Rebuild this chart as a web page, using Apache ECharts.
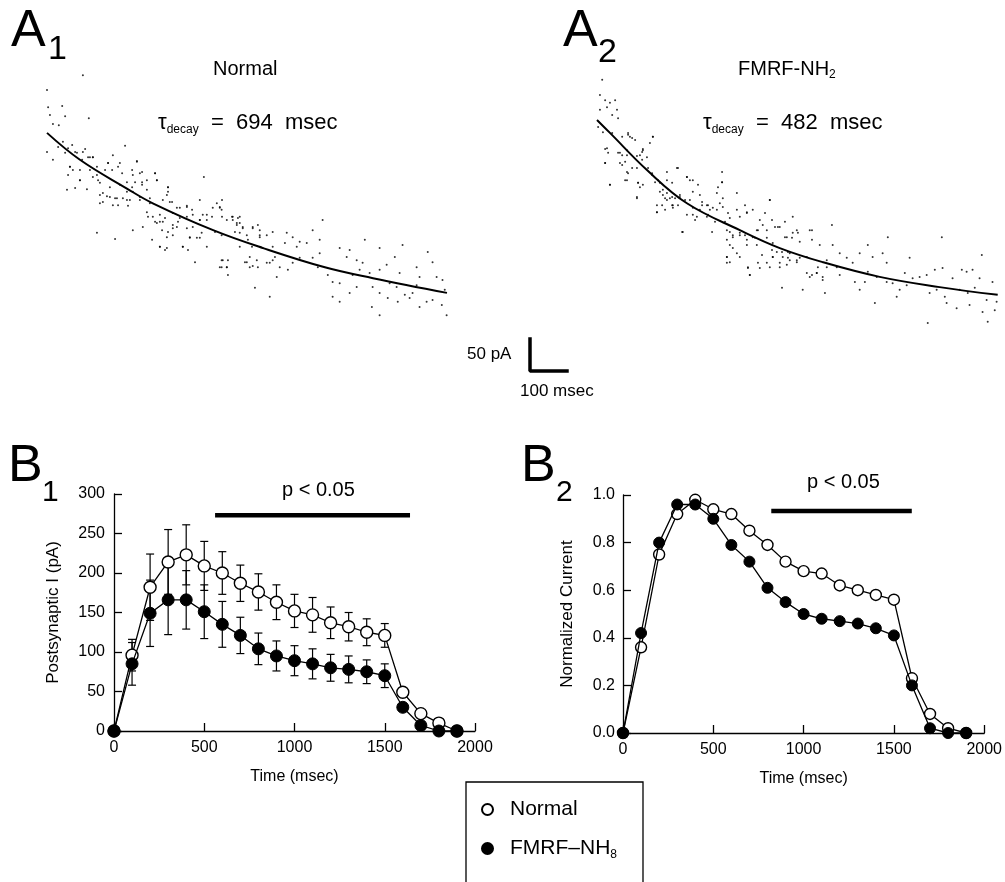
<!DOCTYPE html>
<html>
<head>
<meta charset="utf-8">
<script src="https://cdn.jsdelivr.net/npm/echarts@6/dist/echarts.min.js"></script>
<style>
  html, body { margin: 0; padding: 0; background: #fff; }
  #main { width: 1005px; height: 882px; }
</style>
</head>
<body>
<div id="main"></div>
<script>
// ---- A1 / A2: current decay, msec vs pA ----
const a1Dots = [[97,398],[0,375],[3,348],[41,350],[8,336],[49,334],[113,331],[16,322],[32,320],[0,278],[16,266],[30,286],[57,284],[81,277],[97,278],[111,270],[124,270],[211,288],[62,255],[89,250],[57,242],[89,234],[54,219],[76,222],[108,220],[165,261],[178,273],[192,255],[243,263],[232,242],[257,247],[292,245],[297,234],[135,242],[143,230],[151,214],[170,208],[189,206],[143,198],[178,195],[216,231],[230,223],[216,203],[251,203],[278,198],[257,227],[327,223],[324,211],[338,200],[413,203],[424,239],[270,184],[286,177],[305,180],[340,183],[359,191],[378,192],[232,156],[259,161],[297,167],[313,169],[340,164],[135,152],[184,142],[284,141],[305,130],[324,128],[367,130],[386,144],[413,144],[394,180],[413,172],[432,180],[459,198],[473,203],[467,191],[473,177],[486,172],[502,177],[521,177],[513,167],[529,161],[556,161],[575,156],[400,106],[475,109],[486,98],[489,86],[467,98],[521,152],[543,141],[554,130],[575,145],[535,106],[548,98],[567,109],[594,105],[610,109],[629,98],[562,66],[602,52],[621,83],[651,94],[648,152],[664,145],[683,138],[702,136],[675,130],[643,136],[718,156],[745,172],[737,141],[737,120],[664,105],[683,113],[718,113],[732,98],[759,86],[772,75],[791,73],[772,52],[791,44],[818,58],[837,67],[826,86],[791,128],[818,125],[810,114],[837,109],[853,105],[859,141],[845,94],[872,89],[899,94],[918,102],[899,128],[940,114],[961,133],[880,67],[899,58],[878,36],[899,23],[926,73],[945,67],[953,89],[967,55],[988,58],[999,70],[1007,83],[999,98],[1029,122],[1042,106],[1026,44],[1042,47],[1053,83],[1069,78],[1075,63],[1067,39],[1080,23],[1007,36],[980,50],[921,50],[948,44],
  [43,294],[68,289],[49,277],[76,278],[103,283],[95,266],[116,270],[124,270],[62,255],[70,250],[116,250],[135,255],[157,250],[89,234],[124,239],[138,234],[165,261],[197,261],[176,250],[203,245],[230,250],[243,264],[251,245],[238,231],[257,231],[270,234],[292,245],[297,234],[170,223],[197,227],[216,216],[232,216],[143,211],[162,209],[184,206],[205,206],[224,203],[251,208],[278,206],[151,200],[192,195],[219,194],[270,219],[327,223],[327,216],[313,203],[332,200],[273,177],[305,169],[292,169],[319,175],[351,191],[378,194],[392,188],[359,175],[378,177],[354,169],[340,159],[327,153],[311,156],[324,145],[340,148],[351,161],[378,159],[394,161],[413,172],[421,180],[432,172],[446,177],[448,191],[467,192],[472,188],[386,145],[405,144],[418,152],[432,130],[454,153],[472,148],[500,177],[502,172],[516,175],[521,167],[513,164],[508,153],[529,159],[556,159],[540,148],[575,148],[594,148],[610,153],[570,164],[367,130],[381,125],[305,130],[319,125],[472,109],[489,109],[472,98],[486,98],[521,130],[548,114],[540,106],[556,100],[570,98],[602,105],[616,114],[583,128],[610,130]];
const a1Fit = [[0,308],[89,266],[216,221],[286,198],[449,156],[584,128],[751,98],[881,81],[1081,58]];

const a2Dots = [[14,391],[8,367],[22,359],[35,355],[49,359],[27,348],[54,344],[8,344],[57,331],[41,336],[3,317],[16,309],[41,308],[84,305],[95,300],[151,302],[27,284],[62,277],[81,281],[116,273],[124,281],[135,270],[22,261],[68,258],[81,247],[108,253],[122,266],[35,227],[81,234],[111,230],[116,223],[108,208],[149,245],[157,231],[170,230],[178,219],[189,214],[203,208],[162,184],[189,203],[205,195],[224,208],[216,253],[243,239],[259,234],[273,227],[284,200],[297,195],[313,191],[338,247],[338,231],[324,214],[378,214],[259,191],[270,177],[232,153],[297,177],[340,192],[354,183],[386,177],[405,183],[467,203],[440,172],[351,156],[367,148],[386,152],[405,141],[421,145],[432,156],[351,114],[359,106],[386,114],[408,98],[413,86],[435,105],[459,144],[475,136],[494,161],[513,145],[529,152],[540,156],[581,156],[475,114],[494,105],[516,113],[540,106],[567,114],[500,66],[556,63],[575,83],[594,89],[610,78],[616,58],[635,164],[637,133],[656,120],[675,113],[710,120],[691,105],[621,98],[648,98],[656,86],[697,75],[710,63],[724,75],[732,133],[745,114],[786,145],[772,120],[783,105],[732,91],[756,83],[783,75],[799,73],[751,42],[810,52],[818,63],[837,70],[845,113],[832,89],[853,81],[872,83],[891,86],[913,94],[934,97],[899,58],[918,63],[940,52],[945,42],[972,34],[894,11],[932,145],[961,81],[986,94],[999,91],[1015,94],[1040,117],[980,63],[1002,58],[1021,66],[1034,81],[1053,47],[1056,13],[1069,75],[1080,44],[1075,31],[1007,39],[1042,28],
  [22,283],[30,277],[22,261],[57,277],[68,273],[62,261],[76,263],[81,273],[108,272],[122,278],[124,283],[143,292],[151,302],[68,302],[84,308],[89,302],[103,297],[84,245],[35,227],[76,234],[95,253],[111,230],[124,227],[108,206],[138,253],[149,242],[165,234],[170,216],[178,211],[189,234],[203,230],[189,247],[219,253],[243,239],[251,234],[197,206],[211,206],[224,211],[184,206],[162,195],[176,195],[203,195],[205,191],[219,195],[238,203],[251,203],[259,216],[278,211],[284,195],[162,184],[184,188],[243,180],[259,180],[265,172],[278,188],[300,195],[305,188],[324,188],[332,198],[340,206],[327,223],[338,231],[300,180],[319,169],[346,169],[359,175],[378,188],[400,195],[405,184],[421,188],[230,153],[311,153],[359,153],[367,145],[386,148],[400,148],[351,141],[359,133],[367,128],[351,114],[351,105],[378,120],[405,133],[427,144],[432,133],[435,156],[448,164],[454,183],[467,203],[473,172],[459,156],[481,161],[489,161],[508,169],[529,177],[508,145],[527,144],[543,152],[548,138],[575,156],[581,141],[602,133],[473,125],[486,122],[500,122],[516,122],[502,114],[521,120],[475,114],[459,105],[446,117],[408,97],[440,97],[467,98],[494,98],[513,102],[521,109],[540,109],[413,86],[548,113],[567,89],[581,86],[594,89],[610,83],[597,98],[621,109]];
const a2Fit = [[0,328],[35,308],[135,250],[243,198],[386,156],[494,128],[610,106],[764,83],[926,67],[1083,55]];

// scale bar: 50 pA / 100 msec
const scaleBar = [[0,50],[0,0],[100,0]];

// ---- B1 / B2 ----
const time = [0,100,200,300,400,500,600,700,800,900,1000,1100,1200,1300,1400,1500,1600,1700,1800,1900];
const b1Normal   = [0,96,182,214,223,209,200,187,176,163,152,147,137,132,125,121,49,22,10,0];
const b1NormalSE = [0,20,42,41,38,31,27,23,23,22,21,22,20,18,17,15,0,0,0,0];
const b1Fmrf     = [0,85,149,166,166,151,135,121,104,95,89,85,80,78,75,70,30,7,0,0];
const b1FmrfSE   = [0,27,42,44,37,34,29,23,20,19,19,19,17,17,15,15,0,0,0,0];
const b2Normal = [0,0.36,0.75,0.92,0.98,0.94,0.92,0.85,0.79,0.72,0.68,0.67,0.62,0.60,0.58,0.56,0.23,0.08,0.02,0];
const b2Fmrf   = [0,0.42,0.80,0.96,0.96,0.90,0.79,0.72,0.61,0.55,0.50,0.48,0.47,0.46,0.44,0.41,0.20,0.02,0,0];

// p<0.05 spans (msec) and the level they sit at
const b1Sig = [560, 1640], b1SigLevel = 273;
const b2Sig = [821, 1599], b2SigLevel = 0.933;

const FONT = 'Liberation Sans, Arial, sans-serif';

const chart = echarts.init(document.getElementById('main'));

function pairs(xs, ys) {
  return xs.map((x, i) => [x, ys[i]]);
}
function errData(xs, ys, se) {
  return xs.map((x, i) => [x, ys[i], se[i]]).filter(d => d[2] > 0);
}
function errorBars(idx, data) {
  return {
    type: 'custom',
    xAxisIndex: idx, yAxisIndex: idx,
    silent: true,
    z: 1,
    data: data,
    renderItem: function (params, api) {
      const x = api.value(0), m = api.value(1), s = api.value(2);
      const top = api.coord([x, m + s]);
      const bot = api.coord([x, m - s]);
      const w = 4;
      const st = { stroke: '#000', lineWidth: 1.2 };
      return {
        type: 'group',
        children: [
          { type: 'line', shape: { x1: top[0], y1: top[1], x2: bot[0], y2: bot[1] }, style: st },
          { type: 'line', shape: { x1: top[0] - w, y1: top[1], x2: top[0] + w, y2: top[1] }, style: st },
          { type: 'line', shape: { x1: bot[0] - w, y1: bot[1], x2: bot[0] + w, y2: bot[1] }, style: st }
        ]
      };
    }
  };
}
function hiddenAxis(idx, max) {
  return { gridIndex: idx, type: 'value', min: 0, max: max, show: false };
}
function bAxis(idx, opts) {
  return Object.assign({
    gridIndex: idx,
    type: 'value',
    nameLocation: 'middle',
    nameTextStyle: { fontFamily: FONT, fontSize: 16, color: '#000' },
    axisLine: { show: true, lineStyle: { color: '#000', width: 1.3 } },
    axisTick: { show: true, inside: true, length: 8, lineStyle: { color: '#000', width: 1.3 } },
    axisLabel: { fontFamily: FONT, fontSize: 16, color: '#000', margin: 9, formatter: v => String(v) },
    splitLine: { show: false }
  }, opts);
}
function markerLine(idx, name, data, filled, size) {
  return {
    type: 'line',
    name: name,
    xAxisIndex: idx, yAxisIndex: idx,
    data: data,
    clip: false,
    symbol: 'circle',
    symbolSize: size,
    z: filled ? 4 : 3,
    lineStyle: { color: '#000', width: 1.3 },
    itemStyle: filled ? { color: '#000', borderColor: '#000', borderWidth: 1 }
                      : { color: '#fff', borderColor: '#000', borderWidth: 1.4 }
  };
}
function sigBar(idx, span, level) {
  return {
    type: 'line',
    xAxisIndex: idx, yAxisIndex: idx,
    data: [[span[0], level], [span[1], level]],
    symbol: 'none',
    clip: false,
    lineStyle: { color: '#000', width: 4.5 }
  };
}
function txt(text, left, top, size, rich) {
  return {
    text: text, left: left, top: top, padding: 0,
    textStyle: { fontFamily: FONT, fontSize: size, fontWeight: 'normal', color: '#000', lineHeight: size, rich: rich }
  };
}

const tauRich = {
  t: { fontFamily: FONT, fontSize: 22, lineHeight: 26, color: '#000' },
  d: { fontFamily: FONT, fontSize: 12, lineHeight: 14, verticalAlign: 'bottom', color: '#000' }
};
const subRich = {
  n: { fontFamily: FONT, fontSize: 20, lineHeight: 24, color: '#000' },
  s: { fontFamily: FONT, fontSize: 12, lineHeight: 12, verticalAlign: 'bottom', color: '#000' }
};

chart.setOption({
  backgroundColor: '#fff',
  animation: false,
  title: [
    txt('A', 11, 6, 52),
    txt('1', 48, 33, 34),
    txt('A', 563, 6, 52),
    txt('2', 598, 36, 34),
    txt('Normal', 213, 59, 20),
    txt('{t|τ}{d|decay}{t|  =  694  msec}', 158, 110, 22, tauRich),
    txt('{n|FMRF-NH}{s|2}', 738, 57, 20, subRich),
    txt('{t|τ}{d|decay}{t|  =  482  msec}', 703, 110, 22, tauRich),
    txt('50 pA', 467, 346, 17),
    txt('100 msec', 520, 383, 17),
    txt('B', 8, 441, 52),
    txt('1', 42, 478, 30),
    txt('B', 521, 441, 52),
    txt('2', 556, 478, 30),
    txt('p < 0.05', 282, 480, 20),
    txt('p < 0.05', 807, 472, 20)
  ],
  legend: {
    left: 466, top: 782,
    height: 300,
    orient: 'vertical',
    selectedMode: false,
    data: [{ name: 'Normal', icon: 'circle' }, { name: 'FMRF', icon: 'circle' }],
    itemWidth: 11, itemHeight: 11, itemGap: 18,
    padding: [17, 26, 40, 15],
    borderColor: '#000', borderWidth: 1.3, borderRadius: 0,
    formatter: function (name) {
      return name === 'FMRF' ? '{a|FMRF–NH}{s|8}' : '{a|Normal}';
    },
    textStyle: {
      rich: {
        a: { fontFamily: FONT, fontSize: 21, lineHeight: 24, color: '#000', padding: [0, 0, 0, 12] },
        s: { fontFamily: FONT, fontSize: 12, lineHeight: 12, verticalAlign: 'bottom', color: '#000', padding: [6, 0, 0, 0] }
      }
    }
  },
  grid: [
    { left: 47, top: 74, width: 407, height: 256 },
    { left: 597, top: 74, width: 407, height: 256 },
    { left: 530, top: 339, width: 37, height: 32 },
    { left: 114, top: 494, width: 361, height: 237 },
    { left: 623, top: 495, width: 363, height: 238 }
  ],
  xAxis: [
    hiddenAxis(0, 1100),
    hiddenAxis(1, 1100),
    hiddenAxis(2, 100),
    bAxis(3, { min: 0, max: 2000, interval: 500, name: 'Time (msec)', nameGap: 38 }),
    bAxis(4, { min: 0, max: 2000, interval: 500, name: 'Time (msec)', nameGap: 38 })
  ],
  yAxis: [
    hiddenAxis(0, 400),
    hiddenAxis(1, 400),
    hiddenAxis(2, 50),
    bAxis(3, { min: 0, max: 300, interval: 50, name: 'Postsynaptic I (pA)', nameGap: 52,
      nameTextStyle: { fontFamily: FONT, fontSize: 17, color: '#000' } }),
    bAxis(4, { min: 0, max: 1, interval: 0.2, name: 'Normalized Current', nameGap: 47,
      nameTextStyle: { fontFamily: FONT, fontSize: 17, color: '#000' },
      axisLabel: { fontFamily: FONT, fontSize: 16, color: '#000', margin: 8, formatter: v => v.toFixed(1) } })
  ],
  series: [
    // A1
    { type: 'scatter', xAxisIndex: 0, yAxisIndex: 0, data: a1Dots, symbolSize: 2, itemStyle: { color: '#000' }, silent: true },
    { type: 'line', xAxisIndex: 0, yAxisIndex: 0, data: a1Fit, smooth: 0.4, symbol: 'none', lineStyle: { color: '#000', width: 2 } },
    // A2
    { type: 'scatter', xAxisIndex: 1, yAxisIndex: 1, data: a2Dots, symbolSize: 2, itemStyle: { color: '#000' }, silent: true },
    { type: 'line', xAxisIndex: 1, yAxisIndex: 1, data: a2Fit, smooth: 0.4, symbol: 'none', lineStyle: { color: '#000', width: 2 } },
    // scale bar
    { type: 'line', xAxisIndex: 2, yAxisIndex: 2, data: scaleBar, symbol: 'none', clip: false, lineStyle: { color: '#000', width: 3.5, cap: 'square' } },
    // B1
    markerLine(3, 'Normal', pairs(time, b1Normal), false, 12),
    markerLine(3, 'FMRF', pairs(time, b1Fmrf), true, 12),
    errorBars(3, errData(time, b1Normal, b1NormalSE)),
    errorBars(3, errData(time, b1Fmrf, b1FmrfSE)),
    sigBar(3, b1Sig, b1SigLevel),
    // B2
    markerLine(4, 'Normal', pairs(time, b2Normal), false, 11),
    markerLine(4, 'FMRF', pairs(time, b2Fmrf), true, 11),
    sigBar(4, b2Sig, b2SigLevel)
  ]
});
</script>
</body>
</html>
